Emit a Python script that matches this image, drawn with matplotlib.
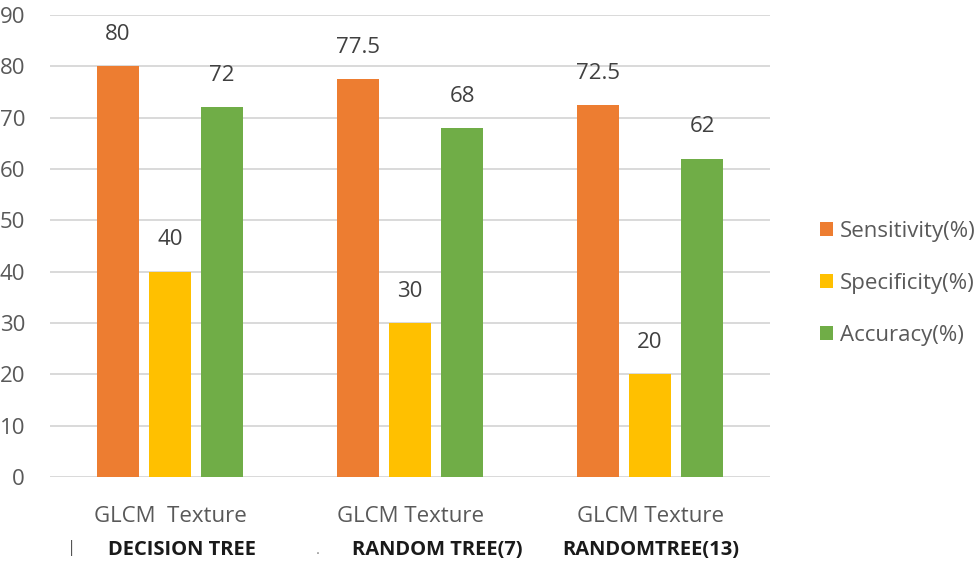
import matplotlib
matplotlib.use("Agg")
import matplotlib.pyplot as plt
import numpy as np

plt.rcParams['font.family'] = ['Open Sans', 'DejaVu Sans']

groups = ["GLCM  Texture", "GLCM Texture", "GLCM Texture"]
methods = ["DECISION TREE", "RANDOM TREE(7)", "RANDOMTREE(13)"]
series = ["Sensitivity(%)", "Specificity(%)", "Accuracy(%)"]
sensitivity = [80, 77.5, 72.5]
specificity = [40, 30, 20]
accuracy = [72, 68, 62]
colors = ["#ED7D31", "#FFC000", "#70AD47"]

fig = plt.figure(figsize=(9.8, 5.66), dpi=100)
ax = fig.add_axes([50/980, 89/566, 720/980, 462/566])

x = np.arange(len(groups))
w = 0.175
off = 0.217
vals = [sensitivity, specificity, accuracy]
for i, (name, v, c) in enumerate(zip(series, vals, colors)):
    bars = ax.bar(x + (i - 1) * off, v, w, color=c, label=name, zorder=3)
    for b, val in zip(bars, v):
        ax.text(b.get_x() + b.get_width() / 2, val + 6.2, f"{val:g}",
                ha='center', va='center', fontsize=16, color='#404040')

ax.set_xlim(-0.5, 2.5)
ax.set_ylim(0, 90)
ax.set_yticks(range(0, 91, 10))
ax.yaxis.grid(True, color='#d9d9d9', linewidth=1.4, zorder=0)
for s in ['top', 'right', 'left', 'bottom']:
    ax.spines[s].set_visible(False)
ax.tick_params(axis='y', length=0, labelsize=16, labelcolor='#595959', pad=18)
ax.set_xticks(x)
ax.set_xticklabels(groups)
ax.tick_params(axis='x', length=0, labelsize=16, labelcolor='#595959', pad=21)

method_x = [182, 437, 651]
for mx, m in zip(method_x, methods):
    fig.text(mx/980, 16/566, m, ha='center', va='center',
             fontsize=14.5, fontweight='bold', color='#1a1a1a')
fig.text(72/980, 18/566, "|", ha='center', va='center',
         fontsize=12, color='#555555')
fig.text(318/980, 16/566, ".", ha='center', va='center',
         fontsize=11, color='#888888')

leg = fig.legend(loc='upper left', bbox_to_anchor=(800/980, 365/566), frameon=False,
                 fontsize=16, labelcolor='#595959', handlelength=0.6, handleheight=0.6,
                 handletextpad=0.3, labelspacing=1.39)

fig.savefig("out.png", dpi=100)
